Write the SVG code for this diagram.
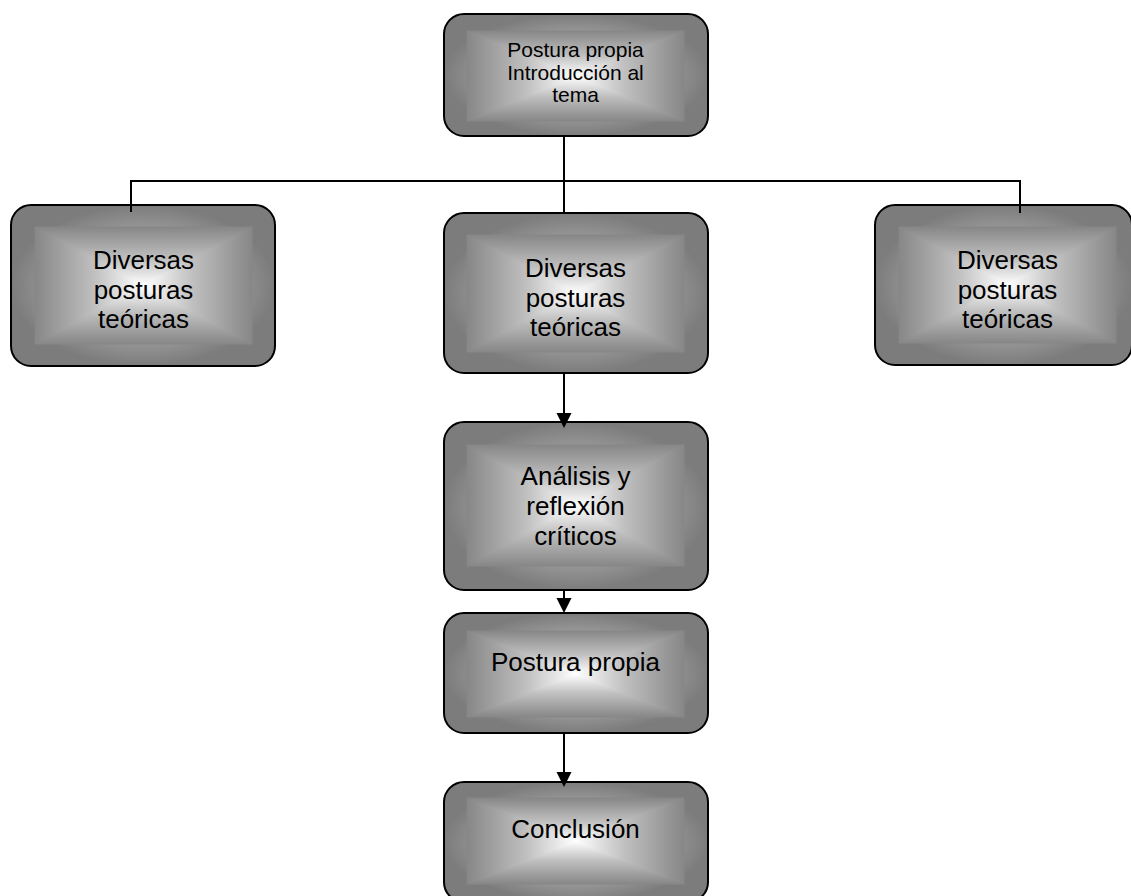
<svg xmlns="http://www.w3.org/2000/svg" width="1131" height="896" viewBox="0 0 1131 896">
<style>
.outer{fill:url(#gOut);stroke:#000;stroke-width:2}
.t{font-family:"Liberation Sans",Arial,sans-serif;font-size:26px;fill:#000;text-anchor:middle}
.ts{font-size:21px}
.line{stroke:#000;stroke-width:2;fill:none}
.head{fill:#000}
.gt{fill:url(#gT);stroke:url(#gT);stroke-width:1}
.gb{fill:url(#gB);stroke:url(#gB);stroke-width:1}
.gl{fill:url(#gL);stroke:url(#gL);stroke-width:1}
.gr{fill:url(#gR);stroke:url(#gR);stroke-width:1}
</style>
<defs>
<radialGradient id="gOut" cx="0.5" cy="0.5" r="0.5">
<stop offset="0.6" stop-color="#a0a0a0"/>
<stop offset="1" stop-color="#7c7c7c"/>
</radialGradient>
<linearGradient id="gT" x1="0" y1="0" x2="0" y2="1">
<stop offset="0" stop-color="#878787"/><stop offset="0.55" stop-color="#c0c0c0"/><stop offset="1" stop-color="#ffffff"/>
</linearGradient>
<linearGradient id="gB" x1="0" y1="1" x2="0" y2="0">
<stop offset="0" stop-color="#878787"/><stop offset="0.55" stop-color="#c0c0c0"/><stop offset="1" stop-color="#ffffff"/>
</linearGradient>
<linearGradient id="gL" x1="0" y1="0" x2="1" y2="0">
<stop offset="0" stop-color="#878787"/><stop offset="0.55" stop-color="#c0c0c0"/><stop offset="1" stop-color="#ffffff"/>
</linearGradient>
<linearGradient id="gR" x1="1" y1="0" x2="0" y2="0">
<stop offset="0" stop-color="#878787"/><stop offset="0.55" stop-color="#c0c0c0"/><stop offset="1" stop-color="#ffffff"/>
</linearGradient>
</defs>

<g id="node-intro">
<rect class="outer" x="444" y="14" width="264" height="122" rx="20"/>
<polygon class="gt" points="467,31 684,31 575.5,76"/>
<polygon class="gb" points="467,121 684,121 575.5,76"/>
<polygon class="gl" points="467,31 467,121 575.5,76"/>
<polygon class="gr" points="684,31 684,121 575.5,76"/>
<text class="t ts" x="575.5" y="57">Postura propia</text>
<text class="t ts" x="575.5" y="80">Introducción al</text>
<text class="t ts" x="575.5" y="102">tema</text>
</g>

<g id="node-left">
<rect class="outer" x="11" y="205" width="264" height="161" rx="20"/>
<polygon class="gt" points="35,227 252,227 143.5,285.5"/>
<polygon class="gb" points="35,344 252,344 143.5,285.5"/>
<polygon class="gl" points="35,227 35,344 143.5,285.5"/>
<polygon class="gr" points="252,227 252,344 143.5,285.5"/>
<text class="t" x="143.5" y="269">Diversas</text>
<text class="t" x="143.5" y="299">posturas</text>
<text class="t" x="143.5" y="328">teóricas</text>
</g>

<g id="node-center">
<rect class="outer" x="444" y="213" width="264" height="160" rx="20"/>
<polygon class="gt" points="467,235 684,235 575.5,293.5"/>
<polygon class="gb" points="467,352 684,352 575.5,293.5"/>
<polygon class="gl" points="467,235 467,352 575.5,293.5"/>
<polygon class="gr" points="684,235 684,352 575.5,293.5"/>
<text class="t" x="575.5" y="277">Diversas</text>
<text class="t" x="575.5" y="307">posturas</text>
<text class="t" x="575.5" y="336">teóricas</text>
</g>

<g id="node-right">
<rect class="outer" x="875" y="205" width="257" height="160" rx="20"/>
<polygon class="gt" points="899,227 1116,227 1007.5,285"/>
<polygon class="gb" points="899,343 1116,343 1007.5,285"/>
<polygon class="gl" points="899,227 899,343 1007.5,285"/>
<polygon class="gr" points="1116,227 1116,343 1007.5,285"/>
<text class="t" x="1007.5" y="269">Diversas</text>
<text class="t" x="1007.5" y="299">posturas</text>
<text class="t" x="1007.5" y="328">teóricas</text>
</g>

<g id="node-analisis">
<rect class="outer" x="444" y="422" width="264" height="168" rx="20"/>
<polygon class="gt" points="467,445 684,445 575.5,505.5"/>
<polygon class="gb" points="467,566 684,566 575.5,505.5"/>
<polygon class="gl" points="467,445 467,566 575.5,505.5"/>
<polygon class="gr" points="684,445 684,566 575.5,505.5"/>
<text class="t" x="575.5" y="485">Análisis y</text>
<text class="t" x="575.5" y="515">reflexión</text>
<text class="t" x="575.5" y="545">críticos</text>
</g>

<g id="node-postura">
<rect class="outer" x="444" y="613" width="264" height="120" rx="20"/>
<polygon class="gt" points="467,631 684,631 575.5,674"/>
<polygon class="gb" points="467,717 684,717 575.5,674"/>
<polygon class="gl" points="467,631 467,717 575.5,674"/>
<polygon class="gr" points="684,631 684,717 575.5,674"/>
<text class="t" x="575.5" y="671">Postura propia</text>
</g>

<g id="node-conclusion">
<rect class="outer" x="444" y="782" width="264" height="120" rx="20"/>
<polygon class="gt" points="467,798 684,798 575.5,841"/>
<polygon class="gb" points="467,884 684,884 575.5,841"/>
<polygon class="gl" points="467,798 467,884 575.5,841"/>
<polygon class="gr" points="684,798 684,884 575.5,841"/>
<text class="t" x="575.5" y="838">Conclusión</text>
</g>

<g id="connectors">
<line class="line" x1="564" y1="136" x2="564" y2="213"/>
<line class="line" x1="130" y1="181" x2="1021" y2="181"/>
<line class="line" x1="131" y1="180" x2="131" y2="212"/>
<line class="line" x1="1020" y1="180" x2="1020" y2="213"/>
<line class="line" x1="564" y1="373" x2="564" y2="414"/>
<polygon class="head" points="556.5,413 571.5,413 564,428"/>
<line class="line" x1="564" y1="590" x2="564" y2="599"/>
<polygon class="head" points="556.5,598 571.5,598 564,613"/>
<line class="line" x1="564" y1="733" x2="564" y2="773"/>
<polygon class="head" points="556.5,772 571.5,772 564,787"/>
</g>
</svg>
